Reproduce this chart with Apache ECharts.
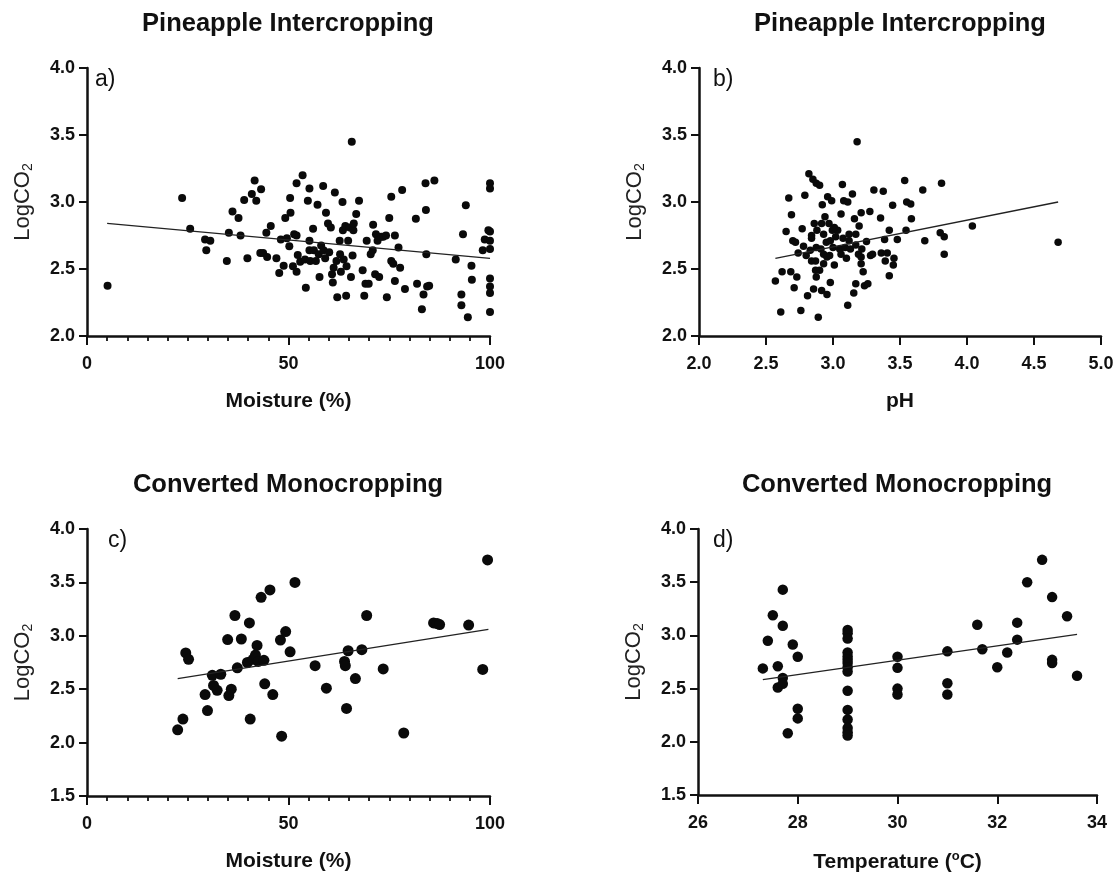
<!DOCTYPE html>
<html>
<head>
<meta charset="utf-8">
<script src="https://cdn.jsdelivr.net/npm/echarts@6/dist/echarts.min.js"></script>
<style>
html,body{margin:0;padding:0;background:#fff;}
#chart{width:1117px;height:874px;}
</style>
</head>
<body>
<div id="chart"></div>
<script>
// ---------- Data ----------
const titles = ['Pineapple Intercropping', 'Pineapple Intercropping', 'Converted Monocropping', 'Converted Monocropping'];
const panelLabels = ['a)', 'b)', 'c)', 'd)'];
const xNames = ['Moisture (%)', 'pH', 'Moisture (%)', 'Temperature ({sup|o}C)'];

// a) Pineapple Intercropping: Moisture vs LogCO2
const moistureA = [5.1,23.6,25.6,29.3,30.6,29.6,34.7,35.2,36.1,37.6,38.1,39.0,39.8,40.9,41.6,42.0,43.2,43.0,43.7,44.5,44.7,45.6,47.0,47.7,48.1,48.8,49.2,49.6,50.2,50.4,50.5,51.1,51.4,52.0,52.0,52.0,52.3,52.9,53.5,54.1,54.3,54.8,55.2,55.2,55.2,55.4,56.1,56.3,56.8,57.2,57.5,57.7,58.1,58.6,58.7,59.1,59.3,59.8,60.1,60.5,60.8,61.0,61.2,61.5,61.9,62.1,62.7,62.8,63.0,63.4,63.5,63.7,64.1,64.3,64.4,64.8,65.2,65.5,65.7,65.9,66.1,66.2,66.8,67.5,68.4,68.8,69.1,69.4,69.9,70.4,70.9,71.0,71.5,71.7,72.1,72.5,73.0,73.5,74.2,74.4,75.0,75.5,75.5,76.0,76.4,76.4,77.3,77.7,78.2,78.9,81.6,81.9,83.1,83.5,84.0,84.1,84.2,84.4,84.9,86.2,91.5,92.9,92.9,93.3,94.0,95.4,95.5,94.5,98.2,98.7,99.6,100,100,100,100,100,100,100,100,100];
const logco2A = [2.375,3.03,2.80,2.72,2.71,2.64,2.56,2.77,2.93,2.88,2.75,3.015,2.58,3.06,3.16,3.01,3.095,2.62,2.62,2.77,2.59,2.82,2.58,2.47,2.72,2.525,2.88,2.73,2.67,3.03,2.92,2.52,2.76,2.75,3.14,2.48,2.605,2.555,3.20,2.57,2.36,3.01,3.10,2.71,2.64,2.56,2.80,2.64,2.56,2.98,2.61,2.44,2.675,3.12,2.64,2.58,2.92,2.84,2.625,2.81,2.46,2.40,2.51,3.07,2.56,2.29,2.71,2.61,2.48,3.00,2.79,2.57,2.82,2.30,2.52,2.71,2.81,2.44,3.45,2.60,2.79,2.84,2.91,3.01,2.49,2.30,2.39,2.71,2.39,2.61,2.64,2.83,2.46,2.76,2.71,2.44,2.74,2.74,2.75,2.29,2.88,3.04,2.56,2.54,2.75,2.41,2.66,2.51,3.09,2.35,2.875,2.39,2.20,2.31,3.14,2.94,2.61,2.37,2.375,3.16,2.57,2.31,2.23,2.76,2.975,2.525,2.42,2.14,2.64,2.72,2.79,3.14,3.10,2.78,2.71,2.65,2.43,2.37,2.32,2.18];
const trendAx = [5, 100];
const trendAy = [2.84, 2.58];

// b) Pineapple Intercropping: pH vs LogCO2
const phB = [2.57,2.61,2.62,2.65,2.67,2.69,2.685,2.70,2.71,2.72,2.73,2.74,2.76,2.77,2.79,2.78,2.80,2.81,2.82,2.83,2.84,2.84,2.85,2.855,2.86,2.87,2.875,2.875,2.88,2.89,2.90,2.90,2.91,2.915,2.92,2.93,2.93,2.94,2.95,2.955,2.96,2.97,2.975,2.98,2.99,2.995,3.00,3.01,3.02,3.035,3.05,3.06,3.07,3.075,3.08,3.09,3.10,3.11,3.11,3.12,3.13,3.145,3.155,3.16,3.17,3.17,3.18,3.19,3.195,3.21,3.21,3.215,3.225,3.235,3.25,3.26,3.275,3.28,3.295,3.305,3.355,3.36,3.375,3.385,3.39,3.405,3.42,3.42,3.445,3.45,3.455,3.48,3.535,3.545,3.55,3.58,3.585,3.67,3.685,3.80,3.81,3.83,3.83,4.04,4.68,2.93,2.98,3.06,3.12,2.875,2.84,2.955,3.17,3.01,3.21,2.915,2.87];
const logco2B = [2.41,2.18,2.48,2.78,3.03,2.905,2.48,2.71,2.36,2.70,2.44,2.62,2.19,2.80,3.05,2.67,2.60,2.30,3.21,2.64,2.56,2.73,3.17,2.35,2.84,2.56,3.14,2.44,2.79,2.14,2.49,3.125,2.65,2.34,2.98,2.76,2.54,2.89,2.70,2.31,3.04,2.84,2.60,2.40,3.01,2.79,2.66,2.53,2.74,2.79,2.65,2.91,3.13,2.73,3.01,2.66,2.58,3.00,2.23,2.71,2.65,3.06,2.32,2.875,2.39,2.76,3.45,2.61,2.82,2.92,2.54,2.65,2.48,2.375,2.705,2.39,2.93,2.60,2.61,3.09,2.88,2.62,3.08,2.72,2.56,2.62,2.79,2.45,2.975,2.53,2.58,2.72,3.16,2.79,3.00,2.985,2.875,3.09,2.71,2.77,3.14,2.74,2.61,2.82,2.70,2.61,2.71,2.61,2.76,2.66,2.75,2.59,2.68,2.81,2.59,2.84,2.49];
const trendBx = [2.57, 4.68];
const trendBy = [2.58, 3.00];

// c) Converted Monocropping: Moisture vs LogCO2
const moistureC = [22.5,23.8,24.5,25.2,29.3,29.9,31.1,31.4,32.3,33.2,34.9,35.2,35.8,36.7,37.3,38.3,39.8,40.3,40.5,41.2,41.8,42.2,42.5,43.2,43.9,44.1,45.4,46.1,48.0,48.3,49.3,50.4,51.6,56.6,59.4,63.9,64.1,64.4,64.8,66.6,68.2,69.4,73.5,78.6,86.0,86.9,87.5,94.7,98.2,99.4];
const logco2C = [2.12,2.22,2.84,2.78,2.45,2.30,2.63,2.535,2.49,2.64,2.965,2.44,2.50,3.19,2.70,2.97,2.75,3.12,2.22,2.78,2.82,2.91,2.76,3.36,2.77,2.55,3.43,2.45,2.96,2.06,3.04,2.85,3.50,2.72,2.51,2.76,2.72,2.32,2.86,2.60,2.87,3.19,2.69,2.09,3.12,3.115,3.105,3.10,2.685,3.71];
const trendCx = [22.5, 99.6];
const trendCy = [2.60, 3.06];

// d) Converted Monocropping: Temperature vs LogCO2
const tempD = [27.3,27.4,27.5,27.6,27.6,27.7,27.7,27.7,27.7,27.8,27.9,28.0,28.0,28.0,29,29,29,29,29,29,29,29,29,29,29,29,29,29,29,30,30,30,30,31,31,31,31.6,31.7,32.0,32.2,32.4,32.4,32.6,32.9,33.1,33.1,33.1,33.4,33.6];
const logco2D = [2.69,2.95,3.19,2.71,2.51,2.60,3.43,3.09,2.545,2.08,2.915,2.80,2.31,2.22,3.05,3.02,2.97,2.84,2.80,2.77,2.74,2.70,2.66,2.48,2.30,2.21,2.13,2.09,2.06,2.80,2.695,2.50,2.445,2.85,2.55,2.445,3.10,2.87,2.70,2.84,3.12,2.96,3.50,3.71,3.36,2.77,2.74,3.18,2.62];
const trendDx = [27.3, 33.6];
const trendDy = [2.585, 3.01];

const xRanges = [[0,100,50,10],[2,5,0.5,0],[0,100,50,10],[26,34,2,0]];
const yRanges = [[2,4,0.5],[2,4,0.5],[1.5,4,0.5],[1.5,4,0.5]];
const symbolSizes = [8, 7.5, 11, 10.5];

// ---------- Layout ----------
const grids = [
  {left: 87, top: 68, width: 403, height: 268},
  {left: 699, top: 68, width: 402, height: 268},
  {left: 87, top: 529, width: 403, height: 267},
  {left: 698, top: 529, width: 399, height: 266}
];
const titlePos = [[288, 24], [900, 24], [288, 485], [897, 485]];
const labelPos = [[95, 80], [713, 80], [108, 541], [713, 541]];

const FONT = '"Liberation Sans", Arial, Helvetica, sans-serif';
const zip = (xs, ys) => xs.map((x, i) => [x, ys[i]]);
const pts = [zip(moistureA, logco2A), zip(phB, logco2B), zip(moistureC, logco2C), zip(tempD, logco2D)];
const trends = [zip(trendAx, trendAy), zip(trendBx, trendBy), zip(trendCx, trendCy), zip(trendDx, trendDy)];

const xAxes = [], yAxes = [], series = [], graphic = [];
for (let i = 0; i < 4; i++) {
  const [xmin, xmax, xint, minor] = xRanges[i];
  const [ymin, ymax, yint] = yRanges[i];
  xAxes.push({
    type: 'value', gridIndex: i, min: xmin, max: xmax, interval: xint,
    name: xNames[i], nameLocation: 'middle', nameGap: 55,
    nameTextStyle: {fontFamily: FONT, fontSize: 21, fontWeight: 'bold', color: '#111',
      rich: {sup: {fontFamily: FONT, fontSize: 13, fontWeight: 'bold', color: '#111', padding: [0, 0, 12, 0]}}},
    axisLine: {show: true, lineStyle: {color: '#111', width: 2.5}},
    axisTick: {show: true, length: 9, lineStyle: {color: '#111', width: 2}},
    minorTick: {show: minor > 0, splitNumber: minor || 5, length: 5, lineStyle: {color: '#111', width: 1.8}},
    axisLabel: {fontFamily: FONT, fontSize: 18, fontWeight: 'bold', color: '#111', margin: 19,
      formatter: v => (i === 1 ? v.toFixed(1) : String(v))},
    splitLine: {show: false}
  });
  yAxes.push({
    type: 'value', gridIndex: i, min: ymin, max: ymax, interval: yint,
    name: 'LogCO{sub|2}', nameLocation: 'middle', nameGap: 52,
    nameTextStyle: {fontFamily: FONT, fontSize: 22, color: '#222',
      rich: {sub: {fontFamily: FONT, fontSize: 14, color: '#222', padding: [10, 0, 0, 0]}}},
    axisLine: {show: true, lineStyle: {color: '#111', width: 2.5}},
    axisTick: {show: true, length: 8, lineStyle: {color: '#111', width: 2}},
    axisLabel: {fontFamily: FONT, fontSize: 18, fontWeight: 'bold', color: '#111', margin: 12,
      formatter: v => v.toFixed(1)},
    splitLine: {show: false}
  });
  series.push({
    type: 'scatter', xAxisIndex: i, yAxisIndex: i, data: pts[i],
    symbol: 'circle', symbolSize: symbolSizes[i], itemStyle: {color: '#0a0a0a', opacity: 1},
    silent: true, z: 3
  });
  series.push({
    type: 'line', xAxisIndex: i, yAxisIndex: i, data: trends[i],
    symbol: 'none', lineStyle: {color: '#222', width: 1.3}, silent: true, z: 4
  });
  graphic.push({type: 'text', x: titlePos[i][0], y: titlePos[i][1],
    style: {text: titles[i], fontFamily: FONT, fontSize: 25.5, fontWeight: 'bold', fill: '#111', align: 'center', verticalAlign: 'middle'}});
  graphic.push({type: 'text', x: labelPos[i][0], y: labelPos[i][1],
    style: {text: panelLabels[i], fontFamily: FONT, fontSize: 23, fill: '#111', align: 'left', verticalAlign: 'middle'}});
}

const chart = echarts.init(document.getElementById('chart'), null, {renderer: 'canvas'});
chart.setOption({
  backgroundColor: '#fff',
  animation: false,
  grid: grids,
  xAxis: xAxes,
  yAxis: yAxes,
  series: series,
  graphic: graphic
});
</script>
</body>
</html>
